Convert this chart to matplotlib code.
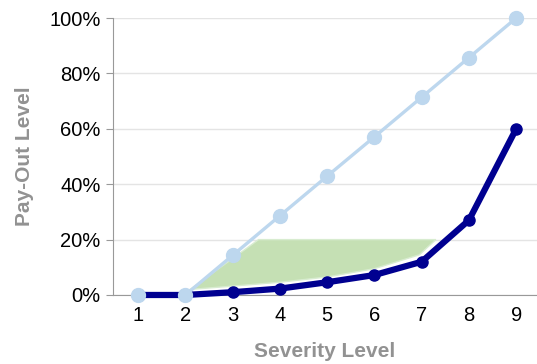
import matplotlib
matplotlib.use("Agg")
import matplotlib.pyplot as plt
from matplotlib.patches import Polygon
from matplotlib.ticker import FuncFormatter

plt.rcParams['font.family'] = ['Liberation Sans', 'DejaVu Sans']

severity = [1, 2, 3, 4, 5, 6, 7, 8, 9]
linear_payout = [0, 0, 14.3, 28.6, 42.9, 57.1, 71.4, 85.7, 100]
convex_payout = [0, 0, 1, 2.3, 4.6, 7.2, 12, 27, 60]

# shaded gap region (severity, pay-out %)
gap_x = [2.1, 3.55, 7.3, 6.95, 6.0, 5.0, 4.0, 3.0]
gap_y = [2.0, 20, 20, 14.5, 9.5, 6.5, 4.6, 3.2]

fig = plt.figure(figsize=(5.37, 3.64), dpi=100)
ax = fig.add_axes([0.2104, 0.1896, 0.7896, 0.7609])

ax.add_patch(Polygon(list(zip(gap_x, gap_y)), closed=True,
                     facecolor='#c5e0b4', edgecolor='#d8ecd0', lw=1, zorder=1))

# light line under the dark one, its markers on top
ax.plot(severity, linear_payout, color='#bdd7ee', lw=2.4, zorder=2, clip_on=False)
ax.plot(severity, convex_payout, color='#000090', lw=4.5, marker='o',
        markersize=8, zorder=3, clip_on=False)
ax.plot(severity, linear_payout, color='#bdd7ee', lw=0, marker='o',
        markersize=10, zorder=4, clip_on=False)

ax.set_xlim(0.47, 9.44)
ax.set_ylim(0, 100)
ax.set_yticks([0, 20, 40, 60, 80, 100])
ax.set_xticks(severity)
ax.yaxis.set_major_formatter(FuncFormatter(lambda v, p: f"{v:.0f}%"))
ax.grid(axis='y', color='#e4e4e4', lw=1, zorder=0)
ax.set_axisbelow(True)

for s in ['top', 'right']:
    ax.spines[s].set_visible(False)
for s in ['left', 'bottom']:
    ax.spines[s].set_color('#999999')
ax.tick_params(axis='y', length=5, color='#999999', labelsize=14.5, pad=4)
ax.tick_params(axis='x', length=0, labelsize=14.5, pad=8)

ax.set_xlabel('Severity Level', fontsize=15, fontweight='bold', color='#929292', labelpad=12)
ax.set_ylabel('Pay-Out Level', fontsize=15, fontweight='bold', color='#929292', labelpad=11)

fig.savefig('out.png', dpi=100)
